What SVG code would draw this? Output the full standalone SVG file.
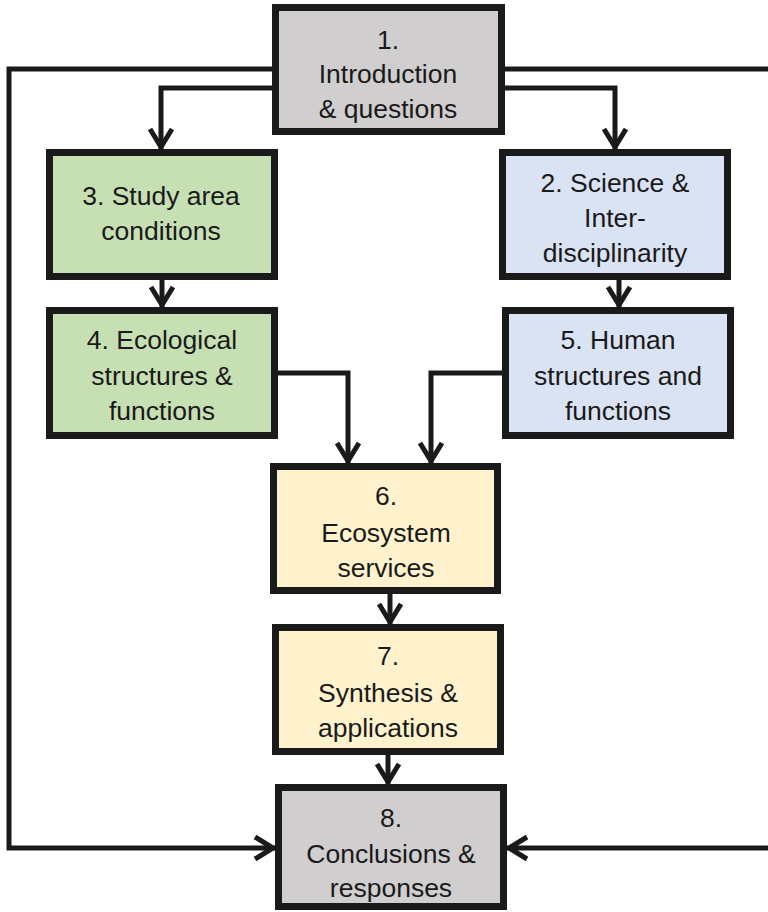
<svg xmlns="http://www.w3.org/2000/svg" width="768" height="912" viewBox="0 0 768 912">
<style>
.box{stroke:#1a1a1a;stroke-width:7}
.gray{fill:#d0cece}.green{fill:#c6e0b4}.blue{fill:#dae3f3}.yellow{fill:#fff2cc}
.lbl{font-family:"Liberation Sans",Arial,sans-serif;font-size:26.5px;fill:#1a1a1a;text-anchor:middle}
.con{fill:none;stroke:#1a1a1a;stroke-width:5;marker-end:url(#arr)}
.plain{fill:none;stroke:#1a1a1a;stroke-width:5}
</style>
<defs>
<marker id="arr" markerUnits="userSpaceOnUse" viewBox="-26 -16 30 32" markerWidth="30" markerHeight="32" refX="0" refY="0" orient="auto">
<path d="M-20,-11 L-2,0 L-20,11" fill="none" stroke="#1a1a1a" stroke-width="5" stroke-linecap="butt" stroke-linejoin="miter"/>
</marker>
</defs>
<rect width="768" height="912" fill="#ffffff"/>
<g id="connectors">
<path class="con" d="M272,69 H9 V848 H275"/>
<path class="plain" d="M505,69 H768"/>
<path class="con" d="M768,848 H507"/>
<path class="con" d="M272,88 H161 V149"/>
<path class="con" d="M505,88 H615 V149"/>
<path class="con" d="M162,280 V307"/>
<path class="con" d="M619,280 V307"/>
<path class="con" d="M278,373 H348 V463"/>
<path class="con" d="M502,373 H431 V463"/>
<path class="con" d="M390,594 V624"/>
<path class="con" d="M388,755 V784"/>
</g>
<g id="node1">
<rect class="box gray" x="275.5" y="7.5" width="226" height="124"/>
<text class="lbl" x="388" y="49">1.</text>
<text class="lbl" x="388" y="83">Introduction</text>
<text class="lbl" x="388" y="118">&amp; questions</text>
</g>
<g id="node3">
<rect class="box green" x="49.5" y="152.5" width="225" height="124"/>
<text class="lbl" x="161" y="205">3. Study area</text>
<text class="lbl" x="161" y="240">conditions</text>
</g>
<g id="node2">
<rect class="box blue" x="502.5" y="152.5" width="225" height="124"/>
<text class="lbl" x="615" y="192">2. Science &amp;</text>
<text class="lbl" x="615" y="227">Inter-</text>
<text class="lbl" x="615" y="262">disciplinarity</text>
</g>
<g id="node4">
<rect class="box green" x="49.5" y="310.5" width="225" height="125"/>
<text class="lbl" x="162" y="349">4. Ecological</text>
<text class="lbl" x="162" y="385">structures &amp;</text>
<text class="lbl" x="162" y="420">functions</text>
</g>
<g id="node5">
<rect class="box blue" x="505.5" y="310.5" width="225" height="125"/>
<text class="lbl" x="618" y="349">5. Human</text>
<text class="lbl" x="618" y="385">structures and</text>
<text class="lbl" x="618" y="420">functions</text>
</g>
<g id="node6">
<rect class="box yellow" x="273.5" y="466.5" width="224" height="124"/>
<text class="lbl" x="386" y="505">6.</text>
<text class="lbl" x="386" y="542">Ecosystem</text>
<text class="lbl" x="386" y="577">services</text>
</g>
<g id="node7">
<rect class="box yellow" x="275.5" y="627.5" width="225" height="124"/>
<text class="lbl" x="388" y="665">7.</text>
<text class="lbl" x="388" y="702">Synthesis &amp;</text>
<text class="lbl" x="388" y="737">applications</text>
</g>
<g id="node8">
<rect class="box gray" x="278.5" y="787.5" width="225" height="119"/>
<text class="lbl" x="391" y="827">8.</text>
<text class="lbl" x="391" y="863">Conclusions &amp;</text>
<text class="lbl" x="391" y="897">responses</text>
</g>
</svg>
